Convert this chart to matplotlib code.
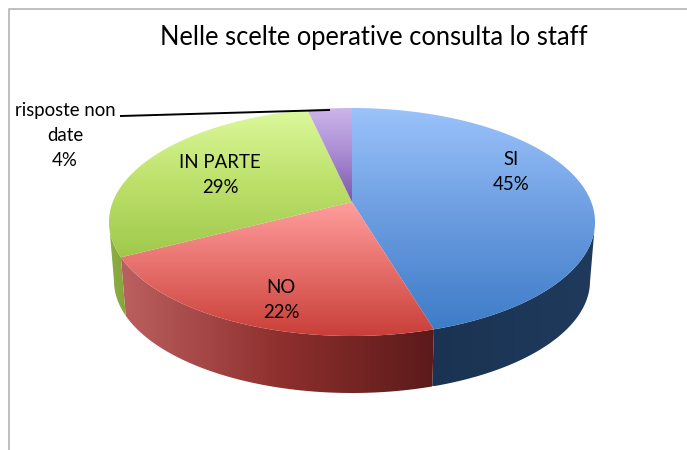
## Imports

import numpy as np

import matplotlib
matplotlib.use('Agg')
import matplotlib.pyplot as plt
from matplotlib.colors import LinearSegmentedColormap
from matplotlib.patches import Polygon

plt.rcParams['font.family'] = ['Lato', 'DejaVu Sans']

## Data

title = "Nelle scelte operative consulta lo staff"
categories = ["SI", "NO", "IN PARTE", "risposte non\ndate"]
values = [45.4, 22.0, 29.1, 3.5]  # labels show them rounded

top_colors = [
    ["#9bc3fb", "#6b9ce0", "#3e7cc8"],
    ["#ff9e9e", "#e66e6a", "#c93f39"],
    ["#dcf99c", "#bde06a", "#a0c94c"],
    ["#cdb6ea", "#a98bd2", "#7a58a8"],
]
side_colors = [
    ["#1b3352", "#1d3758", "#1f3a5c"],
    ["#bb6060", "#8f302e", "#5b1a1a"],
    ["#8fb043", "#8aa93f", "#86a53c"],
    ["#5d4480", "#5d4480", "#5d4480"],
]
label_pos = [(511, 172), (281, 300), (220, 175), (65, 135.5)]

## Pie shape, in picture pixels

cx, cy, rx, ry = 352, 222, 243, 114
bx, by, brx, bry = 352, 281, 238, 112
persp = -0.175  # the apex sits above the middle of the ellipse

def project(theta, r=1.0):
    # clockwise from the top, with a perspective that keeps the rim an ellipse
    X = r * np.sin(theta)
    Y = -r * np.cos(theta)
    d = 1 + persp * Y
    return X * np.sqrt(1 - persp**2) / d, (Y + persp) / d

def gradient(ax, poly, colors, horizontal=False, zorder=3):
    cmap = LinearSegmentedColormap.from_list("g", colors)
    g = np.linspace(0, 1, 256)
    g = g.reshape(1, -1) if horizontal else g.reshape(-1, 1)
    xs, ys = poly[:, 0], poly[:, 1]
    im = ax.imshow(g, cmap=cmap, aspect='auto', interpolation='bilinear', zorder=zorder,
                   extent=(xs.min(), xs.max(), ys.max(), ys.min()))
    patch = Polygon(poly, closed=True, transform=ax.transData, facecolor='none', edgecolor='none')
    ax.add_patch(patch)
    im.set_clip_path(patch)

fig = plt.figure(figsize = (6.87, 4.5), dpi = 100)
ax = fig.add_axes([0, 0, 1, 1])

edges = 2 * np.pi * np.concatenate(([0], np.cumsum(values))) / np.sum(values)

# side walls first, only the front half of the rim shows
for i in range(len(values)):
    t = np.linspace(edges[i], edges[i + 1], 300)
    X, Y = project(t)
    front = Y >= 0
    if front.sum() < 2:
        continue
    X, Y = X[front], Y[front]
    upper = np.column_stack((cx + rx * X, cy + ry * Y))
    lower = np.column_stack((bx + brx * X, by + bry * Y))
    gradient(ax, np.vstack((upper, lower[::-1])), side_colors[i], horizontal=True, zorder=2)

for i in range(len(values)):
    t = np.linspace(edges[i], edges[i + 1], 300)
    X, Y = project(t)
    ax0, ay0 = project(0.0, 0.0)
    rim = np.column_stack((cx + rx * X, cy + ry * Y))
    apex = [[cx + rx * ax0, cy + ry * ay0]]
    gradient(ax, np.vstack((apex, rim)), top_colors[i])

## Frame, leader line and text

ax.plot([8.5, 8.5, 687], [450, 8.5, 8.5], color='#b4b4b4', lw=1.2, zorder=1)
ax.plot([121, 329], [116, 110], color='black', lw=1.4, zorder=4)

ax.text(373.5, 38, title, fontsize=18.4, color='black', ha='center', va='center')
for name, v, (x, y) in zip(categories, values, label_pos):
    ax.text(x, y, "%s\n%.0f%%" % (name, v), fontsize=13.4, color='black', ha='center', va='center',
            linespacing=1.58, zorder=5)

ax.set_xlim(0, 687)
ax.set_ylim(450, 0)
ax.axis('off')

fig.savefig('out.png', dpi = 100)
